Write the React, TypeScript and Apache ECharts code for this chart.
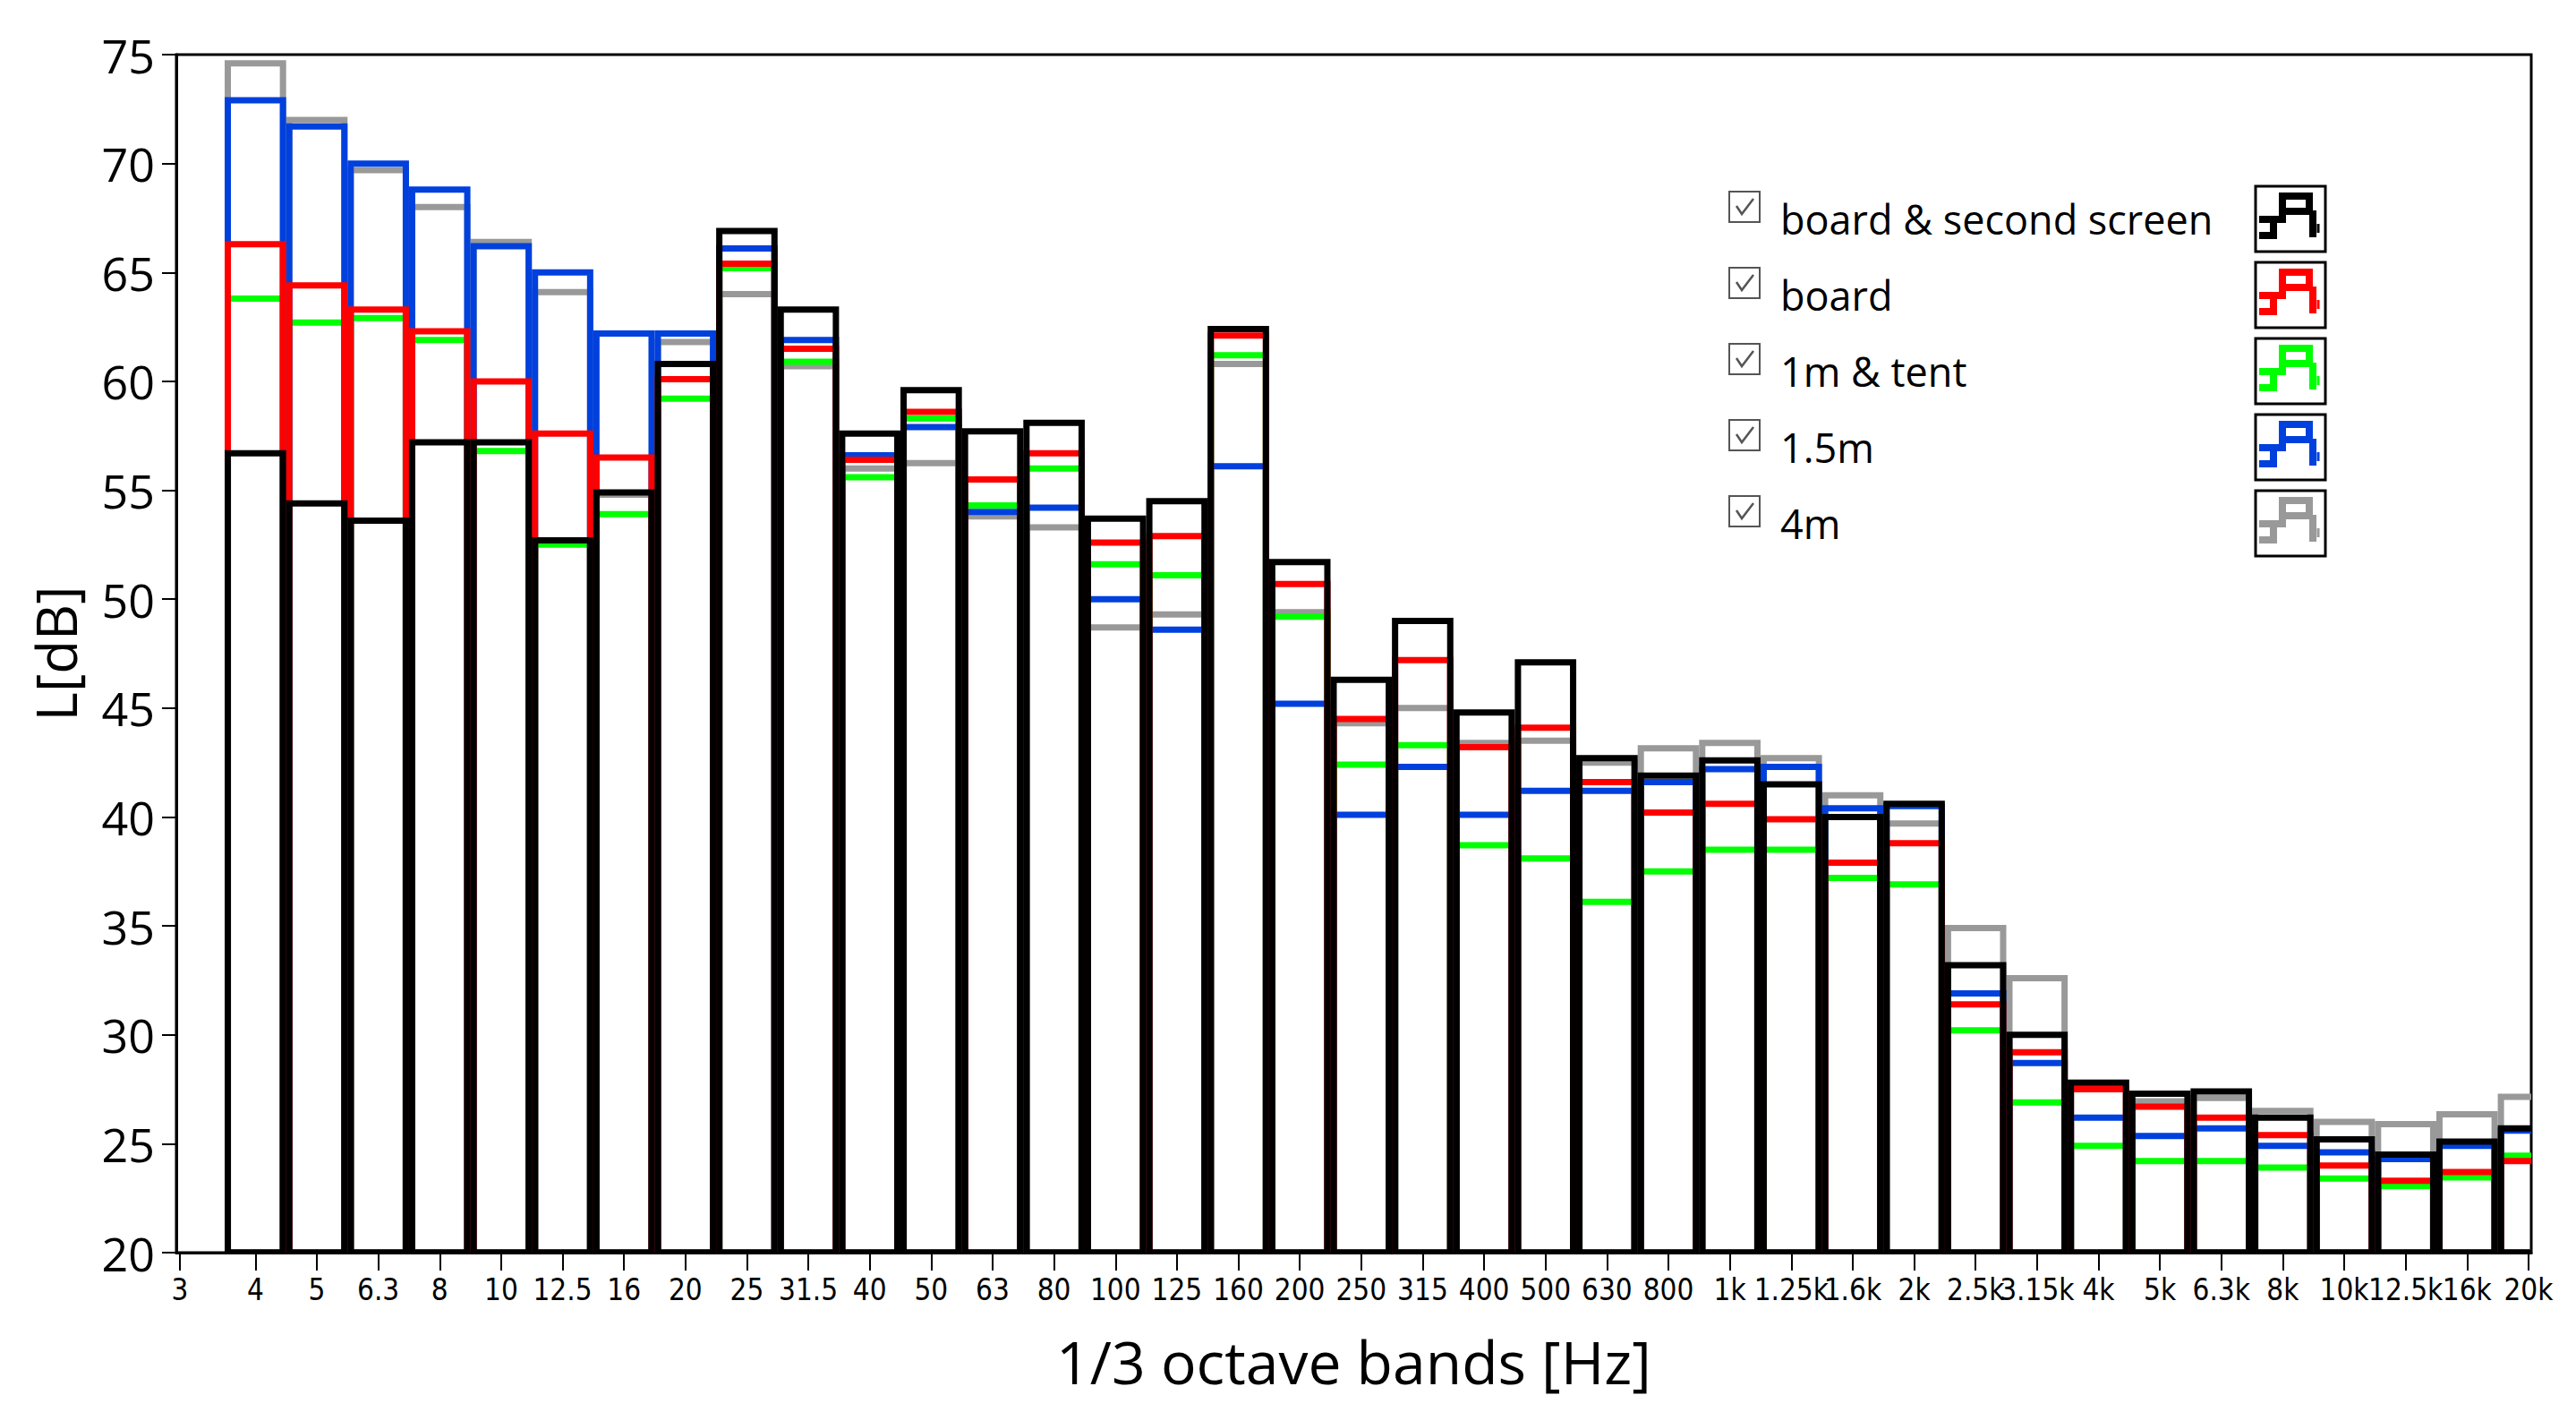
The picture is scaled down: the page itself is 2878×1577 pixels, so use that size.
import React, { useEffect, useRef } from "react";
import * as echarts from "echarts";

// 1/3 octave band nominal centre frequencies [Hz]
const bandFreqs = [4, 5, 6.3, 8, 10, 12.5, 16, 20, 25, 31.5, 40, 50, 63, 80, 100, 125, 160, 200, 250, 315, 400, 500, 630, 800, 1000, 1250, 1600, 2000, 2500, 3150, 4000, 5000, 6300, 8000, 10000, 12500, 16000, 20000];
const bandLabels = ["4", "5", "6.3", "8", "10", "12.5", "16", "20", "25", "31.5", "40", "50", "63", "80", "100", "125", "160", "200", "250", "315", "400", "500", "630", "800", "1k", "1.25k", "1.6k", "2k", "2.5k", "3.15k", "4k", "5k", "6.3k", "8k", "10k", "12.5k", "16k", "20k"];
const extraTickFreq = 3;
const extraTickLabel = "3";

// Levels L [dB]
const boardSecondScreen = [56.7, 54.4, 53.6, 57.2, 57.2, 52.7, 54.9, 60.8, 66.9, 63.3, 57.6, 59.6, 57.7, 58.1, 53.7, 54.5, 62.4, 51.7, 46.3, 49.0, 44.8, 47.1, 42.7, 41.9, 42.6, 41.5, 40.0, 40.6, 33.2, 30.0, 27.8, 27.3, 27.4, 26.2, 25.2, 24.5, 25.1, 25.7];
const board = [66.3, 64.4, 63.3, 62.3, 60.0, 57.6, 56.5, 60.1, 65.4, 61.5, 56.4, 58.6, 55.5, 56.7, 52.6, 52.9, 62.1, 50.7, 44.5, 47.2, 43.2, 44.1, 41.6, 40.2, 40.6, 39.9, 37.9, 38.8, 31.4, 29.2, 27.5, 26.7, 26.2, 25.4, 24.0, 23.3, 23.7, 24.2];
const tent1m = [63.8, 62.7, 62.9, 61.9, 56.8, 52.5, 53.9, 59.2, 65.2, 60.9, 55.6, 58.3, 54.3, 56.0, 51.6, 51.1, 61.2, 49.2, 42.4, 43.3, 38.7, 38.1, 36.1, 37.5, 38.5, 38.5, 37.2, 36.9, 30.2, 26.9, 24.9, 24.2, 24.2, 23.9, 23.4, 23.05, 23.45, 24.45];
const m15 = [72.9, 71.7, 70.0, 68.8, 66.2, 65.0, 62.2, 62.2, 66.1, 61.9, 56.6, 57.9, 54.0, 54.2, 50.0, 48.6, 56.1, 45.2, 40.1, 42.3, 40.1, 41.2, 41.2, 41.6, 42.2, 42.3, 40.4, 40.5, 31.9, 28.7, 26.2, 25.35, 25.7, 24.9, 24.6, 24.3, 24.9, 25.6];
const m4 = [74.6, 72.0, 69.7, 68.0, 66.4, 64.1, 54.8, 61.8, 64.0, 60.7, 56.0, 56.25, 53.8, 53.3, 48.7, 49.3, 60.8, 49.4, 44.3, 45.0, 43.4, 43.5, 42.5, 43.15, 43.4, 42.7, 41.0, 39.7, 34.9, 32.6, 27.8, 26.95, 27.1, 26.5, 26.0, 25.9, 26.35, 27.15];

const seriesNames = ["board & second screen", "board", "1m & tent", "1.5m", "4m"];
const seriesColors = ["#000000", "#ff0000", "#00ff00", "#0040dd", "#999999"];
const seriesValues = [boardSecondScreen, board, tent1m, m15, m4];
const drawOrder = [4, 2, 3, 1, 0];

// exact base-10 band positions (log10 f)
const bandX = bandFreqs.map((f) => Math.round(10 * Math.log10(f)) / 10);
const tickX = [Math.log10(extraTickFreq), ...bandX];
const tickLabels = [extraTickLabel, ...bandLabels];
const X_MIN = Math.log10(2.96);
const X_MAX = Math.log10(20160);
const HALF_BAND = 0.05;
const LW = 7;

function labelFor(v: number) {
  let best = 0;
  let bd = Infinity;
  tickX.forEach((t, i) => {
    const d = Math.abs(t - v);
    if (d < bd) {
      bd = d;
      best = i;
    }
  });
  return tickLabels[best];
}

function makeRender(color: string) {
  return (params: any, api: any) => {
    const xc = api.value(0);
    const v = api.value(1);
    const p1 = api.coord([xc - HALF_BAND, v]);
    const p2 = api.coord([xc + HALF_BAND, 20]);
    return {
      type: "rect",
      shape: {
        x: p1[0] + LW / 2,
        y: p1[1],
        width: p2[0] - p1[0] - LW,
        height: p2[1] - p1[1],
      },
      style: { fill: "none", stroke: color, lineWidth: LW },
    };
  };
}

function legendGraphics() {
  const els: any[] = [];
  seriesNames.forEach((name, i) => {
    const dy = 85 * i;
    const color = seriesColors[i];
    els.push({
      type: "rect",
      x: 1932,
      y: 214 + dy,
      shape: { x: 0, y: 0, width: 34, height: 34 },
      style: { fill: "#fff", stroke: "#555", lineWidth: 2 },
    });
    els.push({
      type: "polyline",
      x: 1932,
      y: 214 + dy,
      shape: { points: [[8, 16], [14, 25], [27, 8]] },
      style: { fill: "none", stroke: "#555", lineWidth: 2.5 },
    });
    els.push({
      type: "text",
      x: 1989,
      y: 244 + dy,
      style: {
        text: name,
        fontSize: 45,
        fontFamily: "'Open Sans'",
        fill: "#000",
        verticalAlign: "middle",
        align: "left",
      },
    });
    els.push({
      type: "rect",
      x: 2520,
      y: 208 + dy,
      shape: { x: 0, y: 0, width: 78, height: 73 },
      style: { fill: "#fff", stroke: "#000", lineWidth: 3 },
    });
    const icons = [
      [[4, 55], [20, 55], [20, 37]],
      [[4, 37], [30, 37], [30, 11], [60, 11], [60, 28], [30, 28]],
      [[64, 27], [64, 57]],
    ];
    icons.forEach((pts) => {
      els.push({
        type: "polyline",
        x: 2520,
        y: 208 + dy,
        shape: { points: pts },
        style: { fill: "none", stroke: color, lineWidth: 8 },
      });
    });
    els.push({
      type: "polyline",
      x: 2520,
      y: 208 + dy,
      shape: { points: [[70, 42], [70, 52]] },
      style: { fill: "none", stroke: color, lineWidth: 3 },
    });
  });
  return els;
}

export default function App() {
  const ref = useRef<HTMLDivElement>(null);
  useEffect(() => {
    if (!ref.current) return;
    const chart = echarts.init(ref.current, undefined, { renderer: "svg" });
    const series = drawOrder.map((idx) => ({
      type: "custom",
      name: seriesNames[idx],
      clip: true,
      renderItem: makeRender(seriesColors[idx]),
      encode: { x: 0, y: 1 },
      data: seriesValues[idx].map((v, i) => [bandX[i], v]),
    }));
    chart.setOption({
      animation: false,
      backgroundColor: "#ffffff",
      grid: {
        left: 197,
        right: 50,
        top: 61,
        bottom: 178,
        show: true,
        borderColor: "#000",
        borderWidth: 3,
        backgroundColor: "#fff",
        containLabel: false,
      },
      xAxis: {
        type: "value",
        min: X_MIN,
        max: X_MAX,
        axisLine: { show: true, lineStyle: { color: "#000", width: 3 } },
        axisTick: { show: true, customValues: tickX, length: 20, lineStyle: { color: "#000", width: 2 } },
        axisLabel: {
          customValues: tickX,
          formatter: (v: number) => labelFor(v),
          fontFamily: "'Liberation Sans Narrow', 'DejaVu Sans Condensed', 'Liberation Sans'",
          fontSize: 33,
          color: "#000",
          margin: 25,
          hideOverlap: false,
          showMinLabel: true,
          showMaxLabel: true,
        },
        splitLine: { show: false },
        name: "1/3 octave bands [Hz]",
        nameLocation: "middle",
        nameGap: 88,
        nameTextStyle: { fontFamily: "'Open Sans'", fontSize: 66, color: "#000" },
      },
      yAxis: {
        type: "value",
        min: 20,
        max: 75,
        interval: 5,
        axisLine: { show: true, lineStyle: { color: "#000", width: 3 } },
        axisTick: { show: true, inside: false, length: 16, lineStyle: { color: "#000", width: 2 } },
        axisLabel: { fontFamily: "'Open Sans'", fontSize: 52, color: "#000", margin: 24 },
        splitLine: { show: false },
        name: "L[dB]",
        nameLocation: "middle",
        nameGap: 104,
        nameTextStyle: { fontFamily: "'Open Sans'", fontSize: 62, color: "#000" },
      },
      series,
      graphic: legendGraphics(),
    });
    return () => chart.dispose();
  }, []);
  return (
    <div
      ref={ref}
      style={{ position: "fixed", left: 0, top: 0, width: 2878, height: 1577, background: "#fff" }}
    />
  );
}
